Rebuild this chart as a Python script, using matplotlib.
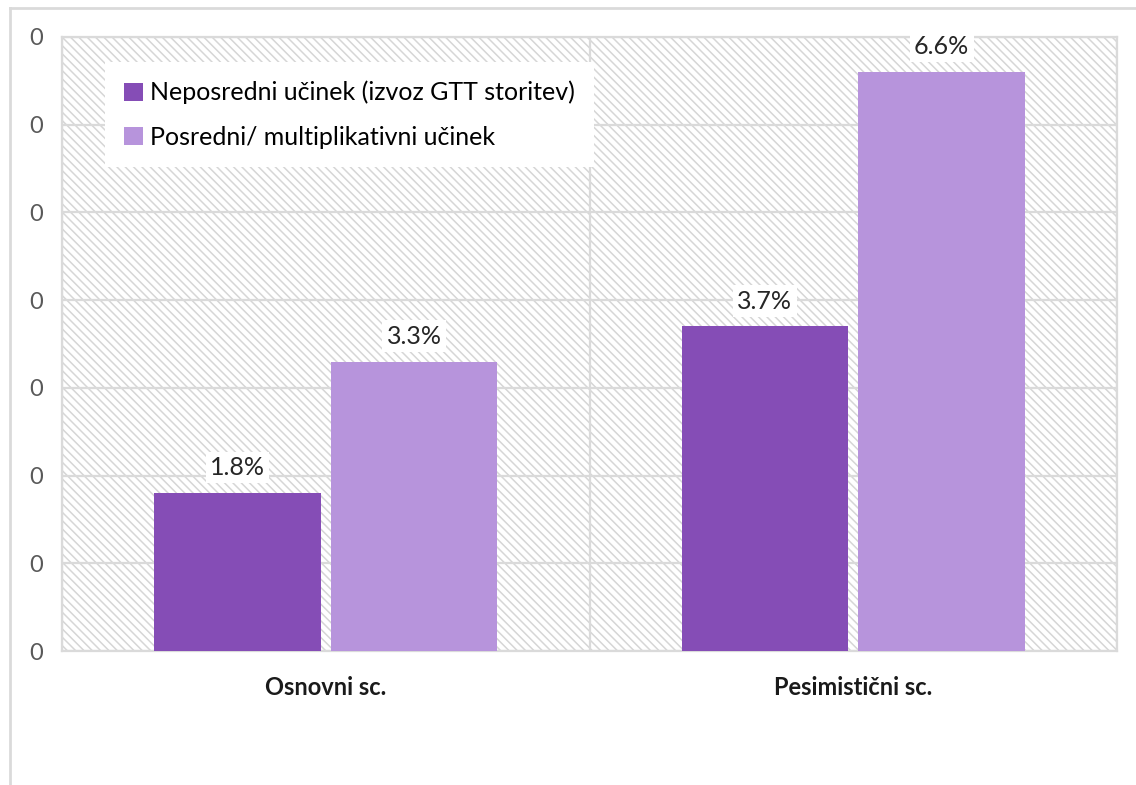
import matplotlib.pyplot as plt
import matplotlib.patches as mpatches
import numpy as np

# values from the chart (percent)
categories = ['Osnovni sc.', 'Pesimistični sc.']
series_names = ['Neposredni učinek (izvoz GTT storitev)', 'Posredni/ multiplikativni učinek']
direct = [1.8, 3.7]
indirect = [3.3, 6.6]
yticks = [0, 1, 2, 3, 4, 5, 6, 7]
ytick_labels = ['0'] * 8

col_dark = '#854db6'
col_light = '#b794dc'
grid_col = '#dadada'
fntsz = 18

plt.rcParams['font.family'] = ['Lato', 'DejaVu Sans']
plt.rcParams['hatch.color'] = '#d6d6d6'
plt.rcParams['hatch.linewidth'] = 1.1

fig = plt.figure(figsize=(11.36, 7.85), dpi=100)
ax = fig.add_axes([0.0546, 0.1707, 0.9287, 0.7822])

# hatched plot background
bg = mpatches.Rectangle((0, 0), 1, 1, transform=ax.transAxes, facecolor='white',
                        hatch='\\\\\\\\', edgecolor='#d6d6d6', linewidth=0, zorder=0)
ax.add_patch(bg)

x = np.arange(len(categories))
w = 0.316
off = 0.1675
b1 = ax.bar(x - off, direct, w, color=col_dark, label=series_names[0], zorder=3)
b2 = ax.bar(x + off, indirect, w, color=col_light, label=series_names[1], zorder=3)

for bars, vals in ((b1, direct), (b2, indirect)):
    for r, v in zip(bars, vals):
        ax.annotate(f'{v:.1f}%', (r.get_x() + r.get_width() / 2, r.get_height()),
                    xytext=(0, 10), textcoords='offset points', ha='center', va='bottom',
                    fontsize=fntsz, color='#262626', zorder=5,
                    bbox=dict(facecolor='white', edgecolor='none', pad=3))

ax.set_xlim(-0.5, 1.5)
ax.set_ylim(0, 7)
ax.set_yticks(yticks)
ax.set_yticklabels(ytick_labels, fontsize=17, color='#595959')
ax.set_xticks(x)
ax.set_xticklabels(categories, fontsize=17, fontweight='bold', color='#1a1a1a')
ax.tick_params(length=0)
ax.tick_params(axis='y', pad=14)
ax.tick_params(axis='x', pad=18)

for yv in yticks:
    ax.axhline(yv, color=grid_col, linewidth=1.6, zorder=1)
for xv in (-0.5, 0.5, 1.5):
    ax.axvline(xv, color=grid_col, linewidth=1.6, zorder=1)
for s in ax.spines.values():
    s.set_color(grid_col)
    s.set_linewidth(1.6)

leg = ax.legend(loc='upper left', bbox_to_anchor=(0.041, 0.959), fontsize=fntsz,
                frameon=True, fancybox=False, handlelength=0.75, handleheight=0.75,
                handletextpad=0.3, labelspacing=0.85, borderpad=0.75, borderaxespad=0)
leg.get_frame().set_facecolor('white')
leg.get_frame().set_edgecolor('none')
leg.get_frame().set_alpha(1)
leg.set_zorder(6)

# outer chart border (left and top visible)
fig.add_artist(plt.Line2D([0.0088, 0.0088], [0, 0.9898], transform=fig.transFigure,
                          color=grid_col, linewidth=2))
fig.add_artist(plt.Line2D([0.0088, 1], [0.9898, 0.9898], transform=fig.transFigure,
                          color=grid_col, linewidth=2))

fig.savefig('out.png', dpi=100)
